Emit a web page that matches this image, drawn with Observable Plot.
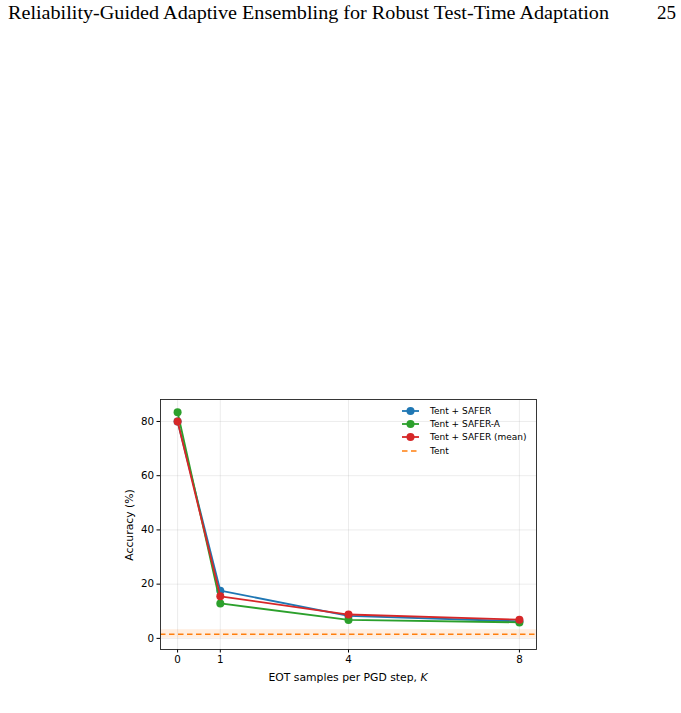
<!DOCTYPE html>
<html>
<head>
<meta charset="utf-8">
<script src="https://cdn.jsdelivr.net/npm/d3@7"></script>
<script src="https://cdn.jsdelivr.net/npm/@observablehq/plot@0.6"></script>
<style>
  html, body { margin: 0; padding: 0; background: #fff; }
  #page { position: relative; width: 681px; height: 713px; overflow: hidden; background: #fff; }
  .lbl { position: absolute; font-family: "DejaVu Sans", sans-serif; font-size: 10.8px; color: #000; white-space: nowrap; }
  #legend { position: absolute; left: 402px; top: 404px; font-family: "DejaVu Sans", sans-serif; font-size: 9px; color: #000; }
  #legend .row { display: flex; align-items: center; height: 13.3px; }
  #legend svg { margin-right: 11px; }
</style>
</head>
<body>
<div id="page">
  <svg id="header" width="681" height="30" style="position:absolute;left:0;top:0">
    <text x="8" y="19" font-family="Liberation Serif, serif" font-size="18" textLength="601" lengthAdjust="spacingAndGlyphs">Reliability-Guided Adaptive Ensembling for Robust Test-Time Adaptation</text>
    <text x="657" y="19" font-family="Liberation Serif, serif" font-size="18" textLength="19" lengthAdjust="spacingAndGlyphs">25</text>
  </svg>
  <div id="chart" style="position:absolute;left:0;top:390px"></div>
  <div class="lbl" id="ylab" style="left:129px;top:525px;transform:translate(-50%,-50%) rotate(-90deg)">Accuracy (%)</div>
  <div class="lbl" id="xlab" style="left:348px;top:677px;transform:translate(-50%,-50%)">EOT samples per PGD step, <i>K</i></div>
  <div id="legend"></div>
</div>
<script>
// ---- data ----
const kValues = [0, 1, 4, 8];
const seriesNames = ["Tent + SAFER", "Tent + SAFER-A", "Tent + SAFER (mean)"];
const seriesColors = ["#1f77b4", "#2ca02c", "#d62728"];
const saferAcc = [80.0, 17.6, 8.3, 6.3];
const saferAAcc = [83.4, 12.9, 6.8, 5.9];
const saferMeanAcc = [80.0, 15.5, 8.8, 6.9];
const tentAcc = 1.5;
const tentLo = 0.1;
const tentHi = 3.2;
const tentName = "Tent";
const tentColor = "#ff7f0e";
const yTicks = [0, 20, 40, 60, 80];

const seriesValues = [saferAcc, saferAAcc, saferMeanAcc];
const series = seriesNames.map((name, i) => ({
  name, color: seriesColors[i],
  points: kValues.map((k, j) => ({k, acc: seriesValues[i][j]}))
}));

const marks = [
  Plot.gridX(kValues, {stroke: "#b0b0b0", strokeOpacity: 0.3, strokeWidth: 0.8}),
  Plot.gridY(yTicks, {stroke: "#b0b0b0", strokeOpacity: 0.3, strokeWidth: 0.8}),
  Plot.rect([{lo: tentLo, hi: tentHi}], {y1: "lo", y2: "hi", fill: tentColor, fillOpacity: 0.13}),
  Plot.ruleY([tentAcc], {stroke: tentColor, strokeWidth: 1.6, strokeDasharray: "5.5,3.5"})
];
for (const s of series) {
  marks.push(Plot.line(s.points, {x: "k", y: "acc", stroke: s.color, strokeWidth: 1.8}));
  marks.push(Plot.dot(s.points, {x: "k", y: "acc", fill: s.color, r: 4}));
}
marks.push(
  Plot.axisX({ticks: kValues, tickSize: 3.5, tickPadding: 3, label: null, fontSize: 10.3}),
  Plot.axisY({ticks: yTicks, tickSize: 3.5, tickPadding: 3, label: null, fontSize: 10.3}),
  Plot.frame({stroke: "#222", strokeWidth: 0.9})
);

const chart = Plot.plot({
  width: 681,
  height: 310,
  marginTop: 9,
  marginBottom: 51,
  marginLeft: 160,
  marginRight: 145,
  style: {fontFamily: "DejaVu Sans, sans-serif", fontSize: "10.3px", color: "#000", background: "transparent"},
  x: {type: "linear", domain: [-0.4, 8.4]},
  y: {type: "linear", domain: [-4.1, 88.1]},
  marks
});
document.getElementById("chart").appendChild(chart);

// ---- legend ----
const legend = document.getElementById("legend");
const legendItems = series.map(s => ({name: s.name, color: s.color, dashed: false}))
  .concat([{name: tentName, color: tentColor, dashed: true}]);
for (const it of legendItems) {
  const row = document.createElement("div");
  row.className = "row";
  const sw = it.dashed
    ? `<svg width="17" height="10"><line x1="0" y1="5" x2="17" y2="5" stroke="${it.color}" stroke-width="1.6" stroke-dasharray="5.5,3.5"/></svg>`
    : `<svg width="17" height="10"><line x1="0" y1="5" x2="17" y2="5" stroke="${it.color}" stroke-width="1.8"/><circle cx="8.5" cy="5" r="4" fill="${it.color}"/></svg>`;
  row.innerHTML = sw + `<span>${it.name}</span>`;
  legend.appendChild(row);
}
</script>
</body>
</html>
